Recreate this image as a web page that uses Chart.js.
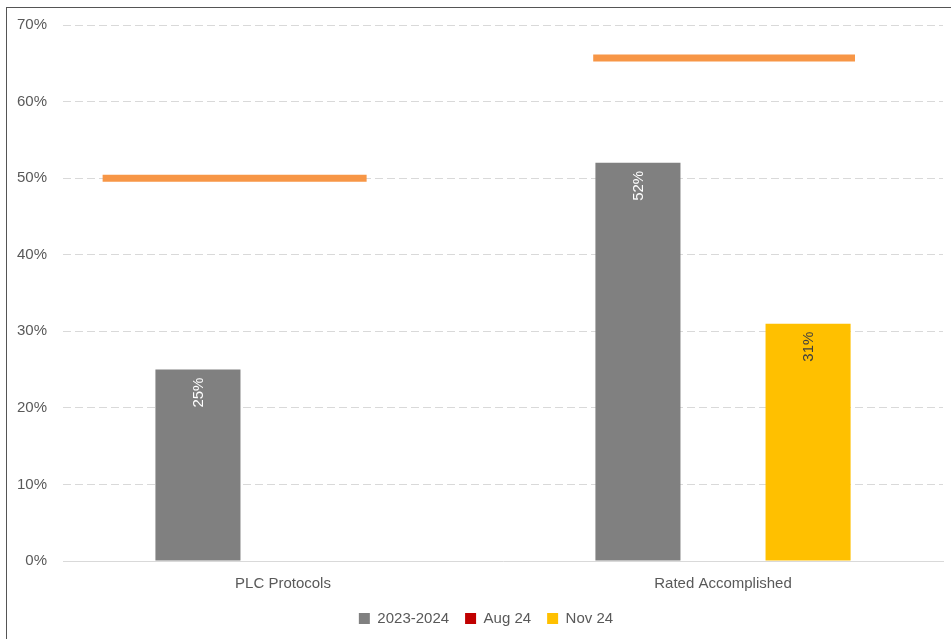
<!DOCTYPE html>
<html>
<head>
<meta charset="utf-8">
<script src="https://cdn.jsdelivr.net/npm/chart.js@4"></script>
<style>
  html, body { margin: 0; padding: 0; background: #fff; overflow: hidden; }
  #wrap { position: relative; width: 951px; height: 639px; }
  #frame { position: absolute; left: 6px; top: 7px; width: 960px; height: 660px; border: 1px solid #555; box-sizing: border-box; }
  canvas { position: absolute; left: 0; top: 0; }
</style>
</head>
<body>
<div id="wrap">
  <div id="frame"></div>
  <canvas id="chart" width="951" height="639"></canvas>
</div>
<script>
// categorias e séries
const categorias = ['PLC Protocols', 'Rated Accomplished'];
const serieNomes = ['2023-2024', 'Aug 24', 'Nov 24'];
const serie2324 = [25, 52];
const serieAug = [null, null];
const serieNov = [null, 31];

// metas (linha laranja): valor e trecho coberto, em unidades de categoria (0 = centro da categoria)
const metas = [50, 65.7];
const metaInicio = [-0.41, -0.295];
const metaFim = [0.19, 0.30];

const yTicks = [0, 10, 20, 30, 40, 50, 60, 70];

const cores = ['#808080', '#C00000', '#FFC000'];
const corMeta = '#F79646';
const fonte = "'Liberation Sans', sans-serif";

// linhas de meta desenhadas com as escalas do gráfico
const linhasMeta = {
    id: 'linhasMeta',
    afterDatasetsDraw(chart) {
        const ctx = chart.ctx;
        const x = chart.scales.x, y = chart.scales.y;
        const unidade = x.getPixelForValue(1) - x.getPixelForValue(0);
        ctx.save();
        ctx.strokeStyle = corMeta;
        ctx.lineWidth = 7;
        ctx.lineCap = 'butt';
        metas.forEach((m, i) => {
            const c = x.getPixelForValue(i);
            const py = y.getPixelForValue(m);
            ctx.beginPath();
            ctx.moveTo(c + metaInicio[i] * unidade, py);
            ctx.lineTo(c + metaFim[i] * unidade, py);
            ctx.stroke();
        });
        ctx.restore();
    }
};

// rótulos verticais dentro das barras
const rotulosBarras = {
    id: 'rotulosBarras',
    afterDatasetsDraw(chart) {
        const ctx = chart.ctx;
        chart.data.datasets.forEach((ds, di) => {
            const meta = chart.getDatasetMeta(di);
            meta.data.forEach((bar, i) => {
                const v = ds.data[i];
                if (v === null || v === undefined) return;
                ctx.save();
                ctx.translate(bar.x, bar.y + 8);
                ctx.rotate(-Math.PI / 2);
                ctx.font = '15px ' + fonte;
                ctx.fillStyle = ds.labelColor;
                ctx.textAlign = 'right';
                ctx.textBaseline = 'middle';
                ctx.fillText(v + '%', 0, 1);
                ctx.restore();
            });
        });
    }
};

// legenda: espaço horizontal maior sem empurrar o eixo x pra cima
const ajusteLegenda = {
    id: 'ajusteLegenda',
    beforeLayout(chart) {
        const leg = chart.legend;
        if (leg && !leg._ajustada) {
            const fitOriginal = leg.fit.bind(leg);
            leg.fit = function() { fitOriginal(); this.height -= 1; };
            leg._ajustada = true;
        }
    },
    afterLayout(chart) {
        const leg = chart.legend;
        if (leg) {
            leg.top -= 4; leg.bottom -= 4;
            leg.left += 14; leg.right += 14;
        }
    }
};

const ctx = document.getElementById('chart').getContext('2d');
new Chart(ctx, {
    type: 'bar',
    data: {
        labels: categorias,
        datasets: [
            { label: serieNomes[0], data: serie2324, backgroundColor: cores[0], labelColor: '#ffffff' },
            { label: serieNomes[1], data: serieAug, backgroundColor: cores[1], labelColor: '#ffffff' },
            { label: serieNomes[2], data: serieNov, backgroundColor: cores[2], labelColor: '#404040' }
        ]
    },
    options: {
        responsive: false,
        animation: false,
        datasets: { bar: { categoryPercentage: 0.58, barPercentage: 1.0 } },
        layout: { padding: { left: 1, right: 8, top: 21, bottom: 0 } },
        scales: {
            x: {
                grid: { display: false },
                border: { display: true, color: '#d9d9d9', width: 1 },
                ticks: { color: '#595959', font: { family: fonte, size: 15 }, padding: 6 }
            },
            y: {
                min: 0, max: 70,
                afterBuildTicks: axis => { axis.ticks = yTicks.map(v => ({ value: v })); },
                grid: { color: '#d9d9d9', drawTicks: false },
                border: { display: false, dash: [8, 4] },
                ticks: {
                    color: '#595959', font: { family: fonte, size: 15 }, padding: 16,
                    callback: v => v + '%'
                }
            }
        },
        plugins: {
            tooltip: { enabled: false },
            legend: {
                position: 'bottom',
                labels: {
                    color: '#595959',
                    font: { family: fonte, size: 15 },
                    boxWidth: 11, boxHeight: 11, padding: 16
                }
            }
        }
    },
    plugins: [rotulosBarras, linhasMeta, ajusteLegenda]
});
</script>
</body>
</html>
